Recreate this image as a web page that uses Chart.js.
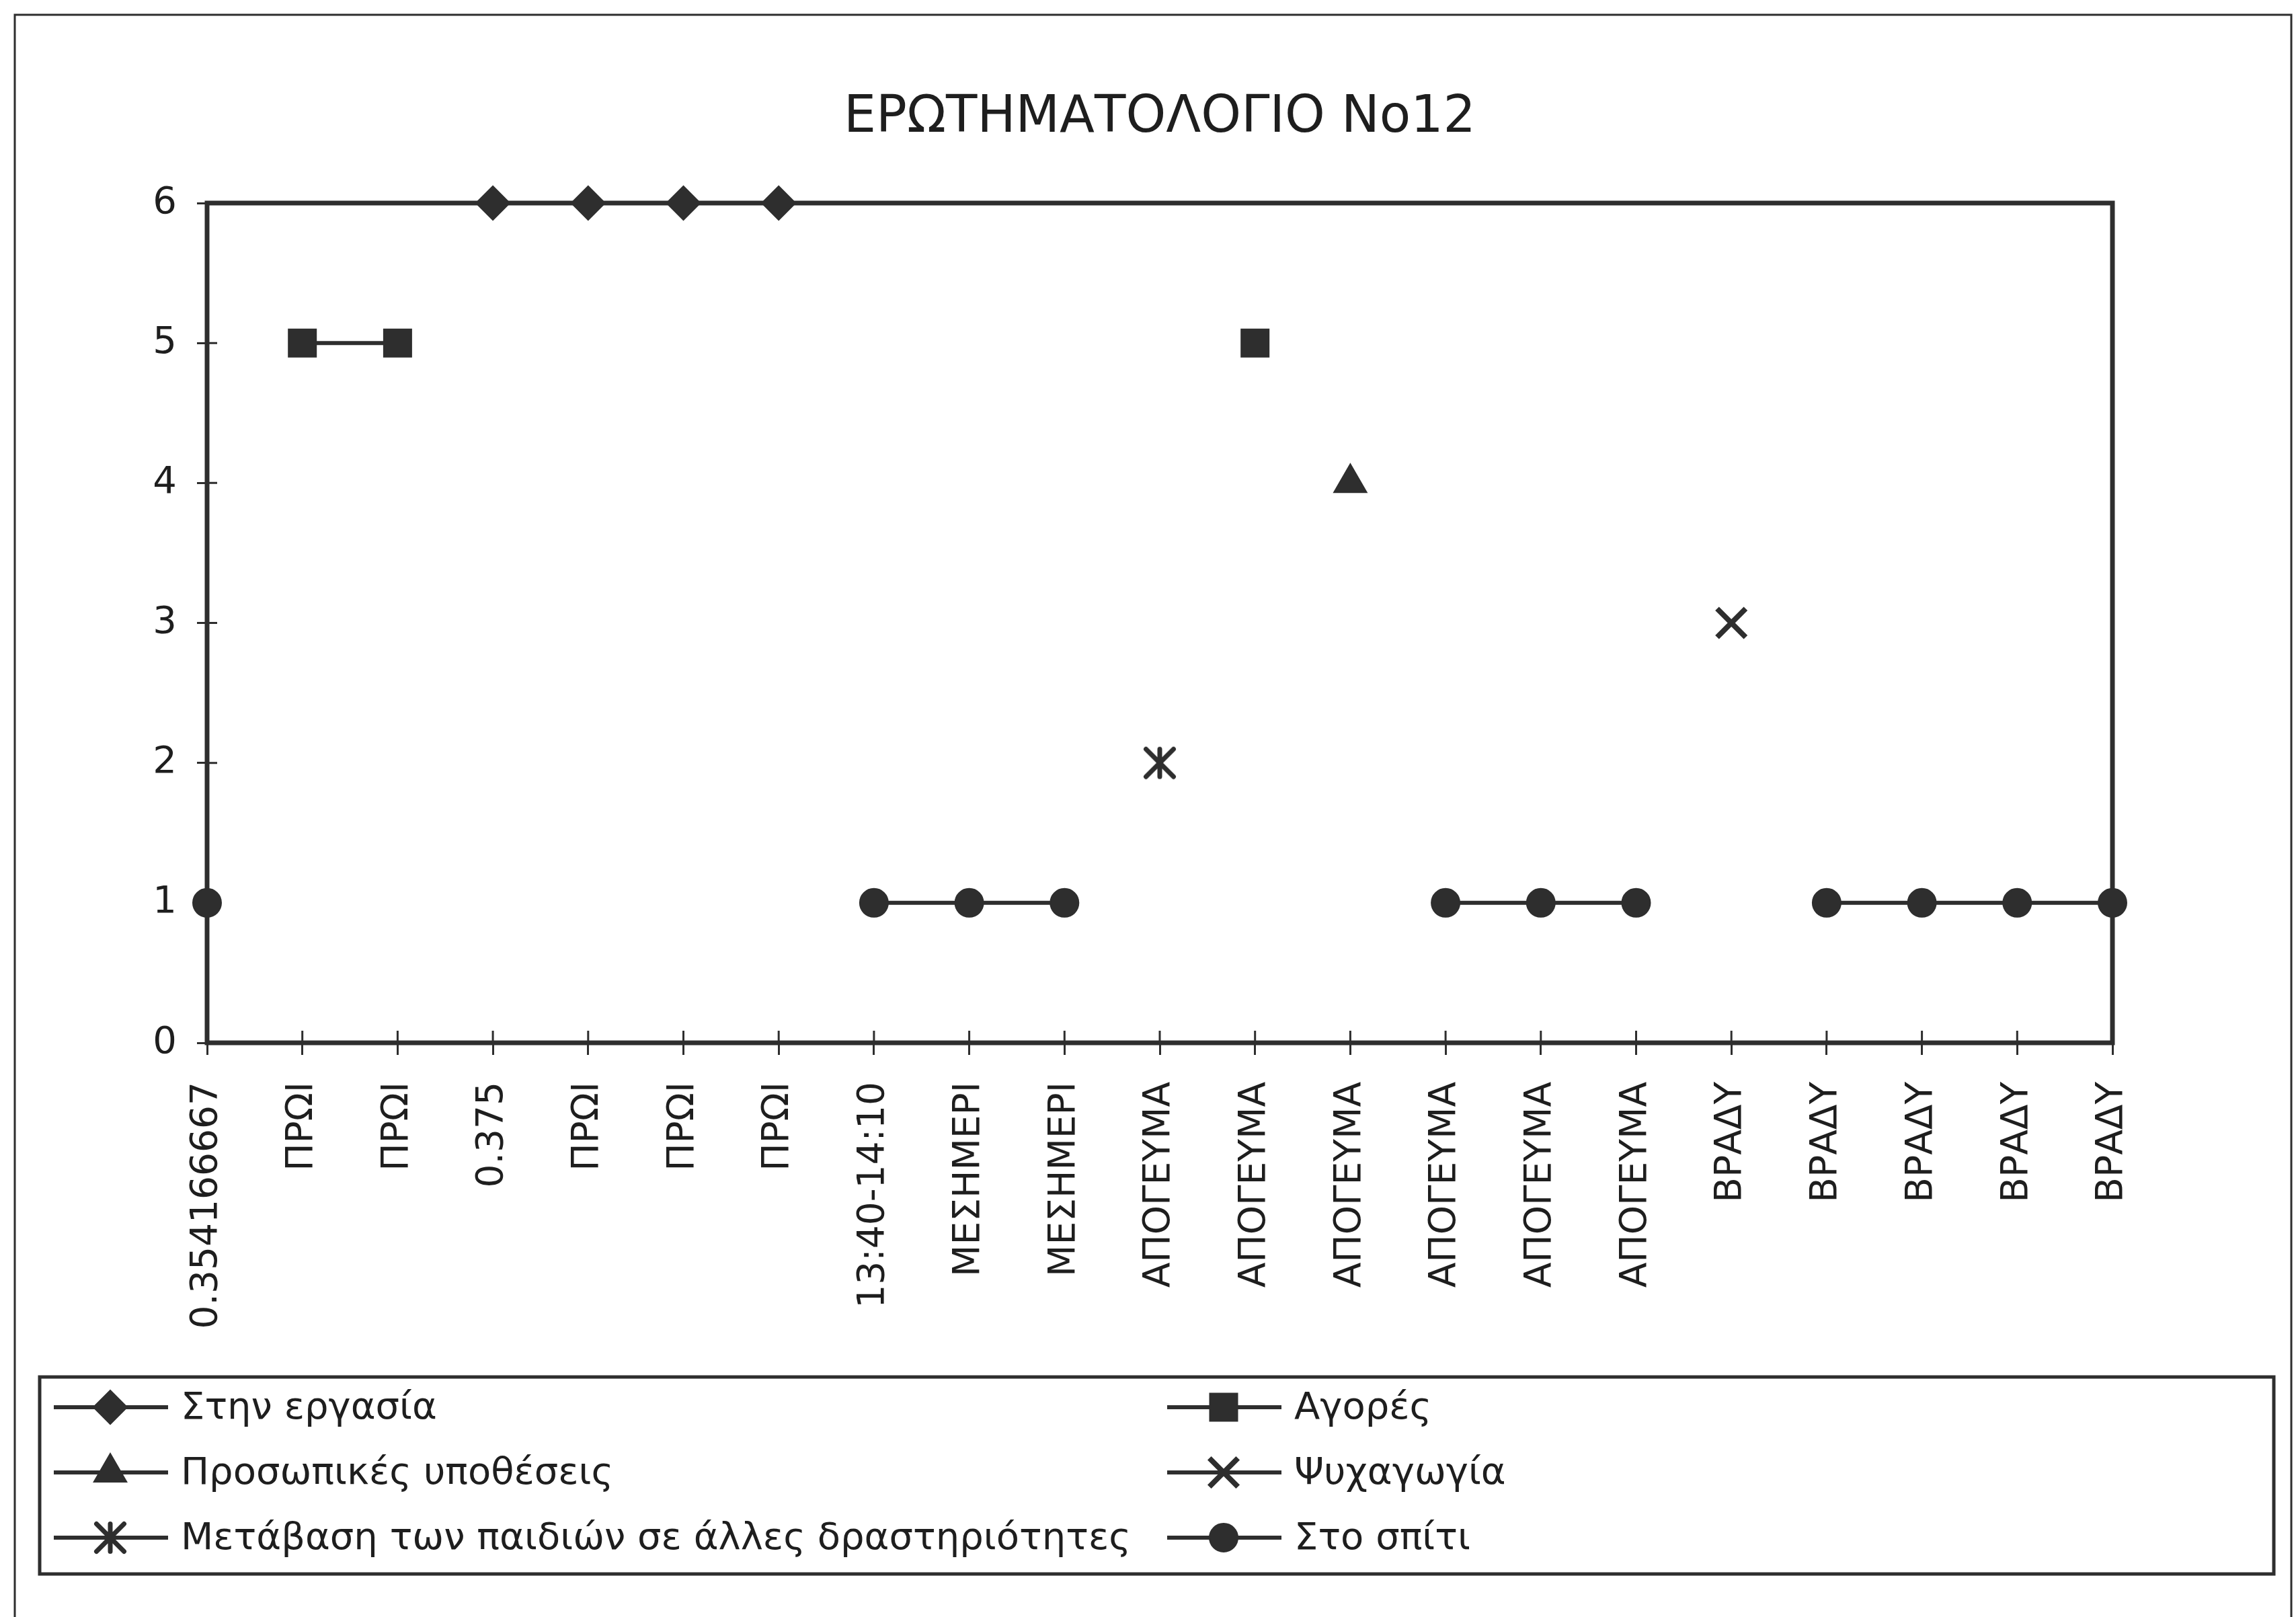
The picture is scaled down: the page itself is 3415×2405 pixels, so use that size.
<!DOCTYPE html>
<html>
<head>
<meta charset="utf-8">
<script src="https://cdn.jsdelivr.net/npm/chart.js@4.4.0/dist/chart.umd.min.js"></script>
<style>
html,body{margin:0;padding:0;background:#fff}
#chart{display:block}
</style>
</head>
<body>
<canvas id="chart" width="3415" height="2405"></canvas>
<script>
// ===== questionnaire no.12 — daily activity timeline =====
const TITLE='ΕΡΩΤΗΜΑΤΟΛΟΓΙΟ Νο12';
const LABELS=['0.354166667','ΠΡΩΙ','ΠΡΩΙ','0.375','ΠΡΩΙ','ΠΡΩΙ','ΠΡΩΙ','13:40-14:10','ΜΕΣΗΜΕΡΙ','ΜΕΣΗΜΕΡΙ',
  'ΑΠΟΓΕΥΜΑ','ΑΠΟΓΕΥΜΑ','ΑΠΟΓΕΥΜΑ','ΑΠΟΓΕΥΜΑ','ΑΠΟΓΕΥΜΑ','ΑΠΟΓΕΥΜΑ','ΒΡΑΔΥ','ΒΡΑΔΥ','ΒΡΑΔΥ','ΒΡΑΔΥ','ΒΡΑΔΥ'];
const _=null;
const WORK    =[_,_,_,6,6,6,6,_,_,_,_,_,_,_,_,_,_,_,_,_,_];
const SHOPPING=[_,5,5,_,_,_,_,_,_,_,_,5,_,_,_,_,_,_,_,_,_];
const PERSONAL=[_,_,_,_,_,_,_,_,_,_,_,_,4,_,_,_,_,_,_,_,_];
const LEISURE =[_,_,_,_,_,_,_,_,_,_,_,_,_,_,_,_,3,_,_,_,_];
const KIDS    =[_,_,_,_,_,_,_,_,_,_,2,_,_,_,_,_,_,_,_,_,_];
const HOME    =[1,_,_,_,_,_,_,1,1,1,_,_,_,1,1,1,_,1,1,1,1];
const SERIES_NAMES=['Στην εργασία','Αγορές','Προσωπικές υποθέσεις','Ψυχαγωγία','Μετάβαση των παιδιών σε άλλες δραστηριότητες','Στο σπίτι'];

const INK='#2e2e2e',TEXT='#1e1e1e',FONT='"DejaVu Sans", sans-serif';
Chart.defaults.font.family=FONT;Chart.defaults.color=TEXT;

// excel-style star: an X with a vertical bar through it
function starMarker(size,lw,color){
  const c=document.createElement('canvas');c.width=c.height=size;
  const g=c.getContext('2d');g.strokeStyle=color;g.lineWidth=lw;g.lineCap='round';
  const m=lw/2+1,s=size-m;
  g.beginPath();g.moveTo(m,m);g.lineTo(s,s);g.moveTo(s,m);g.lineTo(m,s);g.moveTo(size/2,m);g.lineTo(size/2,s);g.stroke();
  return c;
}

function series(label,data,style,radius,bw){
  return {label,data,pointStyle:style,pointRadius:radius,pointHoverRadius:radius,borderColor:INK,backgroundColor:INK,
    pointBackgroundColor:INK,pointBorderColor:INK,pointBorderWidth:bw||2,borderWidth:6,spanGaps:false,tension:0,clip:false};
}

// title centred over the plot, plot frame, inner halves of the tick marks
const framePlugin={id:'frame',beforeDatasetsDraw(chart){
  const {ctx,chartArea:a,scales:{x,y}}=chart;
  ctx.save();
  ctx.fillStyle=TEXT;ctx.font='76px '+FONT;ctx.textAlign='center';ctx.textBaseline='middle';
  ctx.fillText(TITLE,(a.left+a.right)/2,176);
  ctx.strokeStyle=INK;ctx.lineWidth=7;
  ctx.strokeRect(a.left,a.top,a.right-a.left,a.bottom-a.top);
  ctx.lineWidth=3;ctx.beginPath();
  x.ticks.forEach((t,i)=>{const px=x.getPixelForTick(i);ctx.moveTo(px,a.bottom);ctx.lineTo(px,a.bottom-18);});
  y.ticks.forEach((t,i)=>{const py=y.getPixelForTick(i);ctx.moveTo(a.left,py);ctx.lineTo(a.left+15,py);});
  ctx.stroke();ctx.restore();
}};

// outer border and the boxed two-column legend
const legendBox={id:'legendBox',afterDraw(chart){
  const ctx=chart.ctx;
  ctx.save();ctx.strokeStyle=INK;
  ctx.lineWidth=3;ctx.beginPath();ctx.moveTo(22,2420);ctx.lineTo(22,22);ctx.lineTo(3408,22);ctx.lineTo(3408,2420);ctx.stroke();
  ctx.lineWidth=5;ctx.strokeRect(59,2048,3323,293);
  const cols=[80,1736],rows=[2093,2190,2287];
  chart.data.datasets.forEach((ds,i)=>{
    const x0=cols[i%2],yc=rows[Math.floor(i/2)];
    ctx.lineWidth=6;ctx.beginPath();ctx.moveTo(x0,yc);ctx.lineTo(x0+170,yc);ctx.stroke();
    ctx.fillStyle=INK;ctx.lineWidth=ds.pointBorderWidth;
    Chart.helpers.drawPoint(ctx,{pointStyle:ds.pointStyle,radius:ds.pointRadius,rotation:0,borderWidth:ds.pointBorderWidth},x0+84,yc);
    ctx.fillStyle=TEXT;ctx.font='56px '+FONT;ctx.textBaseline='middle';ctx.textAlign='left';
    ctx.fillText(ds.label,x0+189,yc+2);
  });
  ctx.restore();
}};

new Chart(document.getElementById('chart'),{
  type:'line',
  data:{labels:LABELS,datasets:[
    series(SERIES_NAMES[0],WORK,'rectRot',25),
    series(SERIES_NAMES[1],SHOPPING,'rect',29),
    series(SERIES_NAMES[2],PERSONAL,'triangle',28),
    series(SERIES_NAMES[3],LEISURE,'crossRot',30,8),
    series(SERIES_NAMES[4],KIDS,starMarker(50,7,INK),25),
    series(SERIES_NAMES[5],HOME,'circle',21),
  ]},
  options:{responsive:false,animation:false,
    layout:{padding:{top:302,left:0,right:273,bottom:404}},
    plugins:{legend:{display:false},tooltip:{enabled:false},title:{display:false}},
    scales:{
      x:{type:'category',offset:false,border:{display:false},
        grid:{drawOnChartArea:false,tickLength:18,color:INK,lineWidth:3},
        ticks:{autoSkip:false,minRotation:90,maxRotation:90,padding:40,color:TEXT,font:{size:55}},
        afterFit:s=>{s.height=450;}},
      y:{min:0,max:6,border:{display:false},
        grid:{drawOnChartArea:false,tickLength:15,color:INK,lineWidth:3},
        ticks:{stepSize:1,padding:30,color:TEXT,font:{size:56}},
        afterFit:s=>{s.width=308;}}
    }
  },
  plugins:[framePlugin,legendBox]
});
</script>
</body>
</html>
